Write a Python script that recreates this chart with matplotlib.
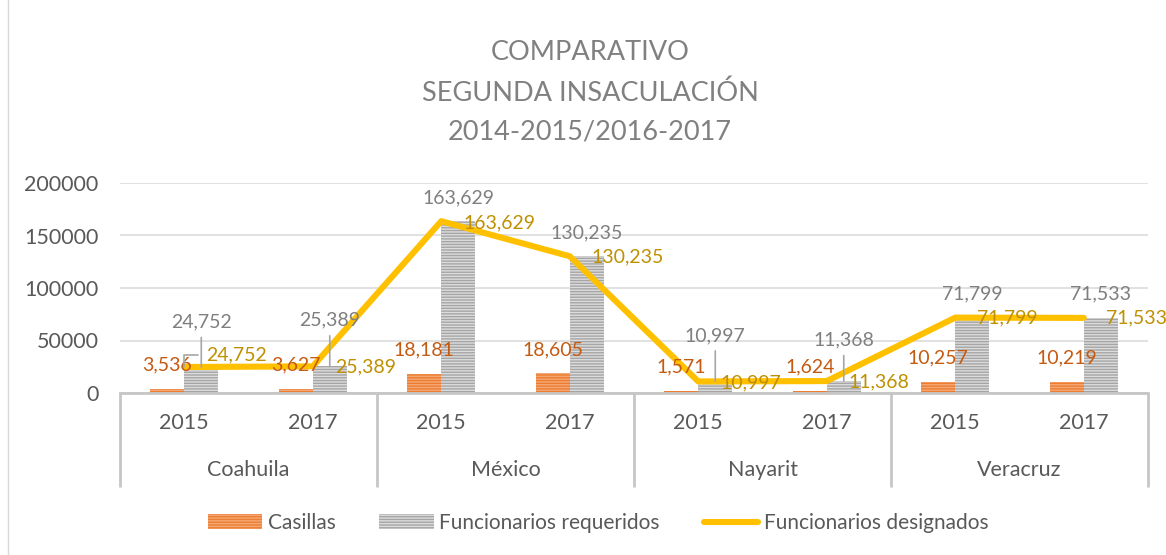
import matplotlib
matplotlib.use("Agg")
import matplotlib.pyplot as plt
import matplotlib.transforms as mtransforms
from matplotlib.lines import Line2D

# ---------------- data ----------------
states = ["Coahuila", "México", "Nayarit", "Veracruz"]
years = ["2015", "2017"]
casillas = [3536, 3627, 18181, 18605, 1571, 1624, 10257, 10219]
requeridos = [24752, 25389, 163629, 130235, 10997, 11368, 71799, 71533]
designados = [24752, 25389, 163629, 130235, 10997, 11368, 71799, 71533]
yticks = [0, 50000, 100000, 150000, 200000]
title_lines = ["COMPARATIVO", "SEGUNDA INSACULACIÓN", "2014-2015/2016-2017"]
series_names = ["Casillas", "Funcionarios requeridos", "Funcionarios designados"]

# label offsets (pixels) – layout only
grey_dy = [45, 46, 23, 23, 46, 41, 24, 24]
yellow_dy = [12, -1, -2, -1, -1, -1, 0, 0]

# ---------------- style ----------------
FONT = "Lato"
plt.rcParams["font.family"] = [FONT, "DejaVu Sans"]
plt.rcParams["hatch.linewidth"] = 1.0
TXT = "#595959"
ORANGE = "#ED7D31"
ORANGE_L = "#F4A875"
GREY = "#A5A5A5"
GREY_L = "#DCDCDC"
YELLOW = "#FFC000"
AXC = "#C6C6C6"

W, H = 1166, 555
fig = plt.figure(figsize=(W / 100, H / 100), dpi=100)
ax = fig.add_axes([120 / W, 1 - 393 / H, (1148 - 120) / W, (393 - 183) / H])

n = len(casillas)
x = list(range(n))
bw = 0.265

b1 = ax.bar([i - bw / 2 for i in x], casillas, width=bw, color=ORANGE,
            edgecolor=ORANGE_L, linewidth=0, hatch="------", zorder=2,
            label=series_names[0])
b2 = ax.bar([i + bw / 2 for i in x], requeridos, width=bw, color=GREY,
            edgecolor=GREY_L, linewidth=0, hatch="------", zorder=2,
            label=series_names[1])
ln, = ax.plot(x, designados, color=YELLOW, lw=4.4, solid_capstyle="round",
              solid_joinstyle="round", zorder=3, label=series_names[2])

ax.set_xlim(-0.5, n - 0.5)
ax.set_ylim(yticks[0], yticks[-1])
ax.set_yticks(yticks)
ax.set_yticklabels([str(v) for v in yticks], fontsize=15.5, color=TXT)
ax.yaxis.grid(True, color="#D9D9D9", lw=1.1, zorder=0)
ax.set_axisbelow(True)
ax.tick_params(axis="y", length=0, pad=15.5)

ax.set_xticks(x)
ax.set_xticklabels(years * len(states), fontsize=15.5, color=TXT)
ax.tick_params(axis="x", length=0, pad=21.5)
for t in ax.get_xticklabels():
    t.set_va("center")

for s in ["top", "right", "left"]:
    ax.spines[s].set_visible(False)
ax.spines["bottom"].set_color(AXC)
ax.spines["bottom"].set_linewidth(2.0)

# category separators & state labels
trans = mtransforms.blended_transform_factory(ax.transData, ax.transAxes)
sep_bottom = -(487 - 393) / (393 - 183)
for g in range(len(states) + 1):
    xs = g * 2 - 0.5
    ax.plot([xs, xs], [0, sep_bottom], transform=trans, color=AXC, lw=2.0,
            clip_on=False, solid_capstyle="butt", zorder=1)
for g, st in enumerate(states):
    ax.text(g * 2 + 0.5, -(470 - 393) / (393 - 183), st, transform=trans,
            ha="center", va="center", fontsize=15.5, color=TXT)

# data labels
LFS = 14
for i in x:
    ax.annotate(f"{casillas[i]:,}", xy=(i - bw / 2, casillas[i]),
                xytext=(0, 24), textcoords="offset pixels", ha="center",
                va="center", fontsize=LFS, color="#C55A11", zorder=5)
    ap = None
    if grey_dy[i] > 30:
        ap = dict(arrowstyle="-", color="#A6A6A6", lw=1.2, shrinkA=3,
                  shrinkB=0, relpos=(0.5, 0))
    ax.annotate(f"{requeridos[i]:,}", xy=(i + bw / 2, requeridos[i]),
                xytext=(0, grey_dy[i]), textcoords="offset pixels",
                ha="center", va="center", fontsize=LFS, color="#7F7F7F",
                arrowprops=ap, zorder=5)
    ap2 = None
    if yellow_dy[i] > 6:
        ap2 = dict(arrowstyle="-", color="#A6A6A6", lw=1.2, shrinkA=4,
                   shrinkB=0, relpos=(0, 0.5),
                   connectionstyle="angle,angleA=0,angleB=90,rad=0")
    ax.annotate(f"{designados[i]:,}", xy=(i, designados[i]),
                xytext=(22, yellow_dy[i]), textcoords="offset pixels",
                ha="left", va="center", fontsize=LFS, color="#BF9000",
                arrowprops=ap2, zorder=5, annotation_clip=False)

# title
title_y = [53, 93, 132]
for ty, tl in zip(title_y, title_lines):
    fig.text(590 / W, 1 - ty / H, tl, ha="center", va="center",
             fontsize=19.5, color="#808080", fontweight="normal")

# legend
fig.legend(handles=[b1, b2, ln], labels=series_names, loc="center",
           bbox_to_anchor=(598 / W, 1 - 523 / H), ncol=3, frameon=False,
           fontsize=15, labelcolor=TXT, handlelength=2.6, handleheight=0.7,
           handletextpad=0.28, columnspacing=2.1, borderaxespad=0)

# chart-area border (left edge visible)
fig.add_artist(Line2D([8 / W, 8 / W], [0, 1], transform=fig.transFigure,
                      color="#D9D9D9", lw=1))

fig.savefig("out.png", dpi=100)
